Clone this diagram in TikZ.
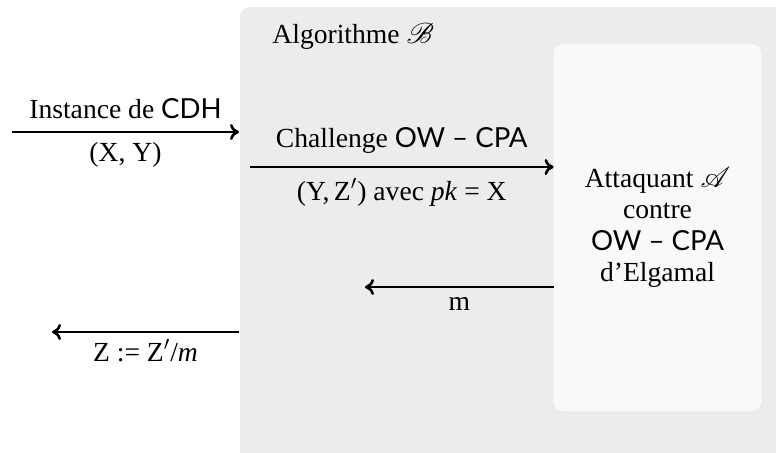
\documentclass[tikz,border=0pt]{standalone}
\usepackage{fontspec}
\setmainfont{Liberation Serif}
\setsansfont{Lato}
\usepackage{mathrsfs}
\usetikzlibrary{arrows.meta,positioning}

\tikzset{
  fleche/.style={-{To[length=4.5pt,width=8pt]},line width=1.3pt},
  etiq/.style={inner sep=2pt,text height=12pt,text depth=4pt},
}

\begin{document}
\begin{tikzpicture}[x=0.5pt,y=-0.5pt,font=\fontsize{13.8}{15.7}\selectfont]
			\useasboundingbox (0,0) rectangle (776,452);
			% algorithme B
			\fill[gray!15,rounded corners=5pt] (240,7) rectangle (800,480);
			\node[anchor=base west,inner sep=0pt] (titreB) at (272,43) {Algorithme $\mathscr{B}$};
			% attaquant A
			\node[fill=gray!5,draw=gray!3,rounded corners=5pt,minimum width=103.5pt,minimum height=183.5pt,align=center] (attaquant) at (657.5,227.5)
				{Attaquant $\mathscr{A}$\\ contre\\ \textsf{OW -- CPA}\\ d'Elgamal};
			\coordinate (cdhDebut) at (12,132);
			\coordinate (cdhFin) at (239,132);
			\coordinate (chalDebut) at (250,167);
			\coordinate (mFin) at (365,287);
			\coordinate (zDebut) at (239,332);
			\coordinate (zFin) at (52,332);
			% fleches
			\draw[fleche] (cdhDebut) -- node[etiq,above] (lblCdh) {Instance de \textsf{CDH}} node[etiq,below] (lblXY) {(X, Y)} (cdhFin);
			\draw[fleche] (chalDebut) -- node[etiq,above=3pt] (lblChal) {Challenge \textsf{OW -- CPA}} node[etiq,below=2pt] (lblYZ) {(Y,\,Z$'$) avec \textit{pk} = X} (chalDebut -| attaquant.west);
			\draw[fleche] (mFin -| attaquant.west) -- node[etiq,below=-3pt] (lblM) {m} (mFin);
			\draw[fleche] (zDebut) -- node[etiq,below] (lblZ) {Z := Z$'$/\textit{m}} (zFin);
		\end{tikzpicture}
\end{document}
